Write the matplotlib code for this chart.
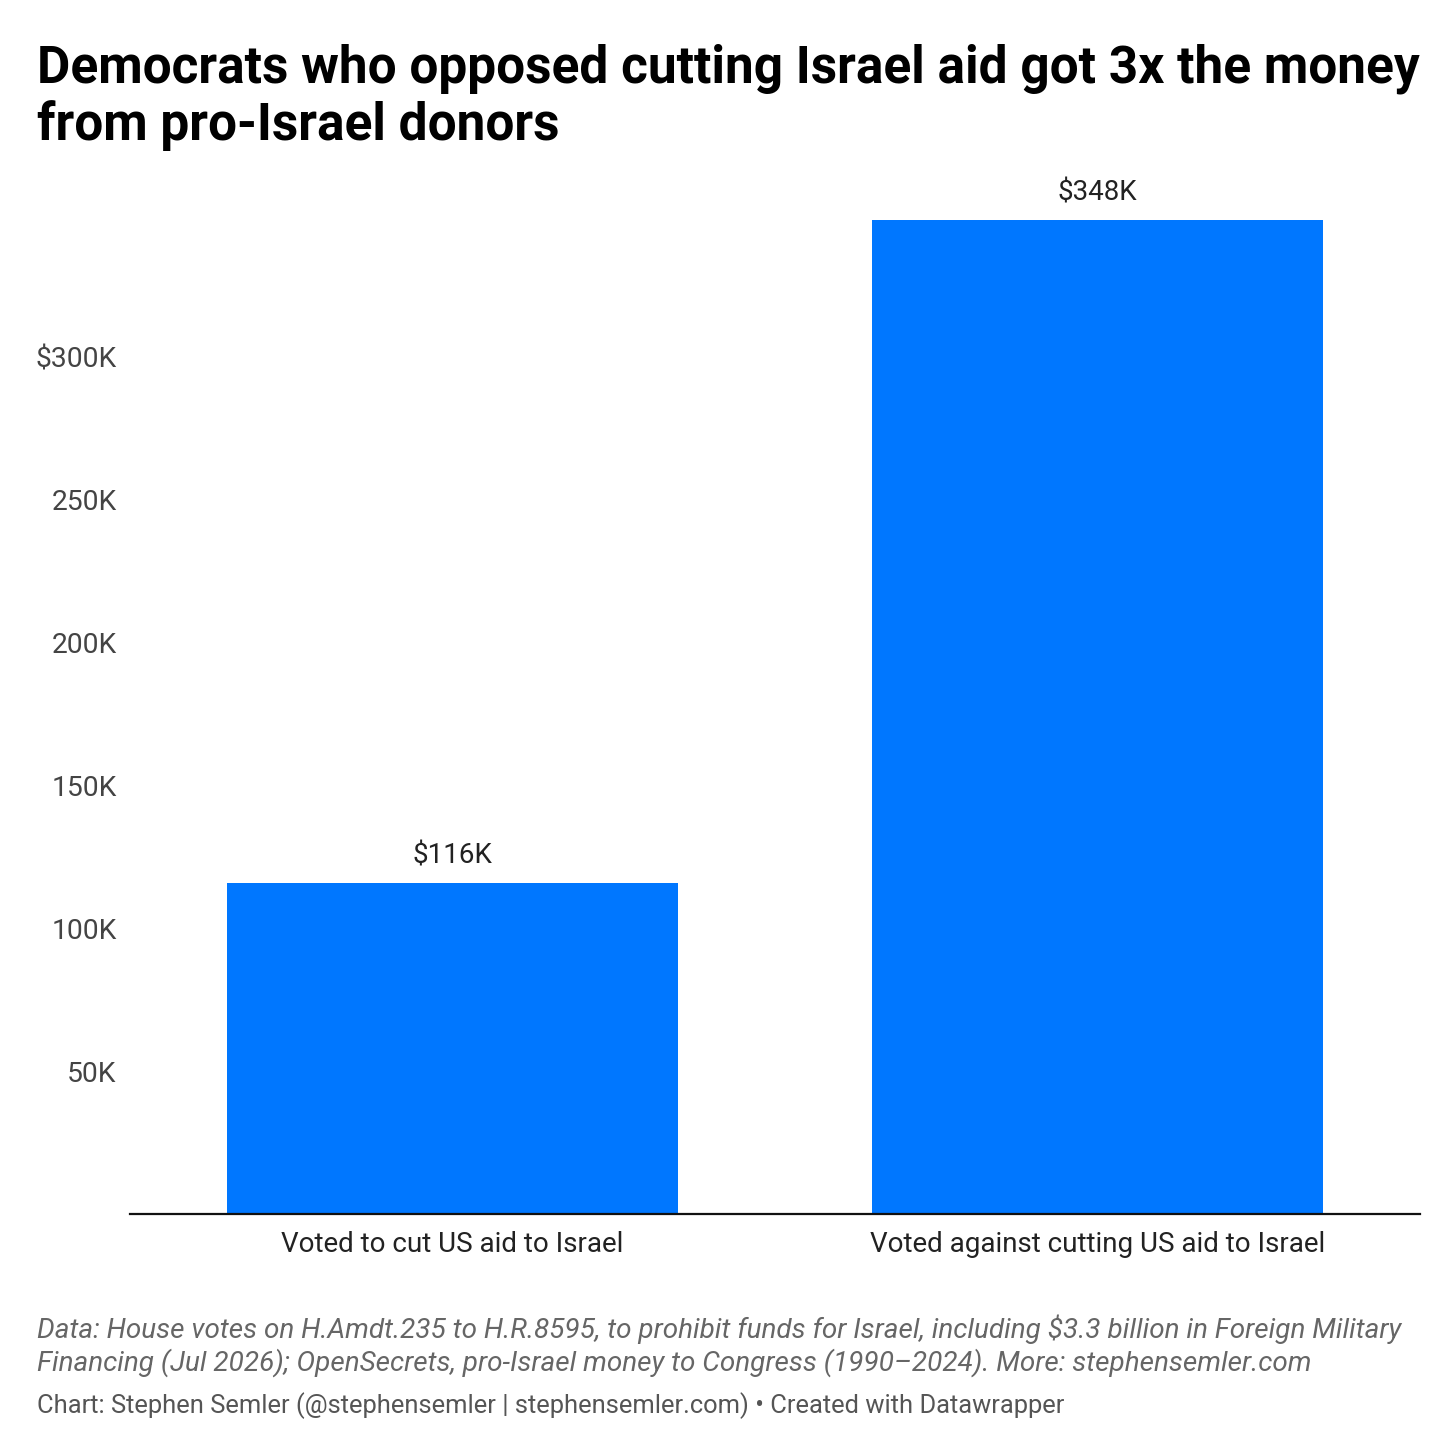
import matplotlib
matplotlib.use("Agg")
import matplotlib.pyplot as plt

categories = ["Voted to cut US aid to Israel", "Voted against cutting US aid to Israel"]
values = [116, 348]  # thousands of dollars
bar_labels = ["$116K", "$348K"]
yticks = [50, 100, 150, 200, 250, 300]
ytick_labels = ["50K", "100K", "150K", "200K", "250K", "$300K"]

title_lines = ["Democrats who opposed cutting Israel aid got 3x the money",
               "from pro-Israel donors"]
source_lines = ["Data: House votes on H.Amdt.235 to H.R.8595, to prohibit funds for Israel, including $3.3 billion in Foreign Military",
                "Financing (Jul 2026); OpenSecrets, pro-Israel money to Congress (1990\u20132024). More: stephensemler.com"]
credit = "Chart: Stephen Semler (@stephensemler | stephensemler.com) \u2022 Created with Datawrapper"

plt.rcParams['font.family'] = ['Roboto', 'DejaVu Sans']

W = H = 1456
fig = plt.figure(figsize=(W / 100, H / 100), dpi=100)
fig.patch.set_facecolor("white")

ax = fig.add_axes([130 / W, 1 - 1214 / H, 1290 / W, (1214 - 220) / H])
x = list(range(len(categories)))
ax.bar(x, values, width=0.7, color="#0077FF", zorder=2)
ax.set_xlim(-0.5, 1.5)
ax.set_ylim(0, 348)

for xi, v, lab in zip(x, values, bar_labels):
    ax.annotate(lab, (xi, v), xytext=(0, 13.7), textcoords="offset points",
                ha="center", va="baseline", fontsize=20, color="#222222", clip_on=False)

ax.set_yticks(yticks)
ax.set_yticklabels(ytick_labels)
ax.set_xticks(x)
ax.set_xticklabels(categories)
ax.tick_params(axis="y", length=0, pad=9.5, labelsize=20.3, labelcolor="#444444")
ax.tick_params(axis="x", length=0, pad=12.5, labelsize=20, labelcolor="#222222")
for s in ["left", "right", "top"]:
    ax.spines[s].set_visible(False)
ax.spines["bottom"].set_color("#111111")
ax.spines["bottom"].set_linewidth(1.6)
ax.spines["bottom"].set_zorder(3)

for line, yb in zip(title_lines, [83, 140]):
    fig.text(37 / W, 1 - yb / H, line, ha="left", va="baseline", fontsize=37,
             fontweight="bold", color="#000000")
for line, yb in zip(source_lines, [1338, 1371]):
    fig.text(37 / W, 1 - yb / H, line, ha="left", va="baseline", fontsize=20.1,
             style="italic", color="#666666")
fig.text(37 / W, 1 - 1413 / H, credit, ha="left", va="baseline", fontsize=18.4,
         color="#555555")

fig.savefig("out.png", dpi=100, facecolor="white")
